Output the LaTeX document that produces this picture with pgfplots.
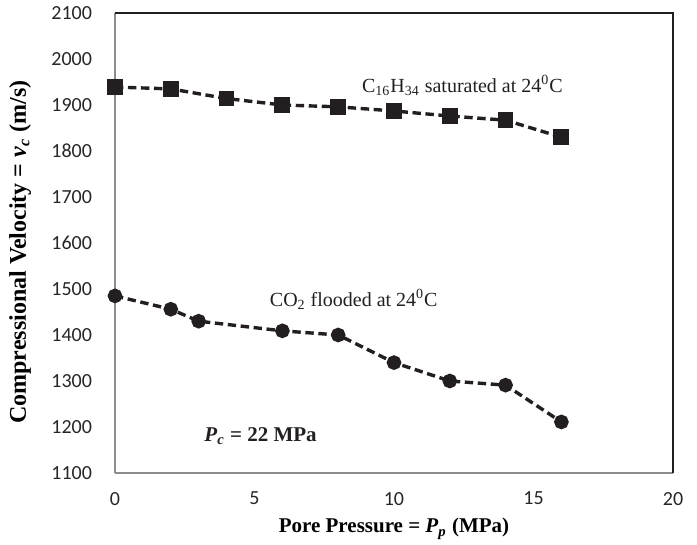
\documentclass[border=0pt]{standalone}
\usepackage{fontspec}
\setmainfont{Liberation Serif}
\newfontfamily\carlito{Carlito}
\usepackage{pgfplots}
\pgfplotsset{compat=1.18}
\definecolor{ink}{HTML}{231F20}
\definecolor{framegray}{HTML}{8C8C8C}
\pgfplotstableread{
x y
0 1939
2 1935
4 1914
6 1900
8 1896
10 1887
12 1876
14 1867
16 1830
}\hexadecane
\pgfplotstableread{
x y
0 1485
2 1456
3 1430
6 1409
8 1400
10 1340
12 1300
14 1291
16 1211
}\cotwo
\begin{document}
\begin{tikzpicture}
\begin{axis}[
  scale only axis, width=279pt, height=230pt,
  xmin=0, xmax=20, ymin=1100, ymax=2100,
  xtick={0,5,10,15,20}, ytick={1100,1200,...,2100},
  axis lines*=left,
  axis line style={framegray, line width=0.9pt},
  major tick length=0pt,
  tick label style={font=\carlito\fontsize{10}{12}\selectfont, text=black!85},
  /pgf/number format/assume math mode=true,
  /pgf/number format/1000 sep={},
  yticklabel style={xshift=-8pt},
  xticklabel style={yshift=-6pt},
  clip=false,
  every axis x label/.style={at={(rel axis cs:0.5,0)}, anchor=base, yshift=-30pt,
    font=\fontsize{10.5}{12}\selectfont\bfseries},
  every axis y label/.style={at={(rel axis cs:-0.170,0.48)}, anchor=center, rotate=90,
    font=\fontsize{12}{14}\selectfont\bfseries},
  xlabel={Pore Pressure = \textit{P}\textsubscript{\textit{p}} (MPa)},
  ylabel={Compressional Velocity = \textit{v}\textsubscript{\textit{c}} (m/s)},
]
\addplot[ink, line width=1.7pt, dash pattern=on 4.2pt off 2.3pt,
  mark=square*, mark size=3.1pt, mark options={solid, fill=ink}] table[x=x,y=y] {\hexadecane};
\addplot[ink, line width=1.7pt, dash pattern=on 4.2pt off 2.3pt,
  mark=*, mark size=2.8pt, mark options={solid, fill=ink}] table[x=x,y=y] {\cotwo};
\draw[ink, line width=0.65pt] (rel axis cs:0,1) -- (rel axis cs:1,1) -- (rel axis cs:1,0);
\node[anchor=base west, font=\fontsize{10}{12}\selectfont, text=ink] at (axis cs:8.6,1928)
  {C\textsubscript{16}H\textsubscript{34} saturated at 24\textsuperscript{0}C};
\node[anchor=base west, font=\fontsize{10}{12}\selectfont, text=ink] at (axis cs:5.3,1463)
  {CO\textsubscript{2} flooded at 24\textsuperscript{0}C};
\node[anchor=base west, font=\fontsize{10.5}{12}\selectfont\bfseries, text=ink] at (axis cs:2.95,1168)
  {\textit{P}\textsubscript{\textit{c}} = 22 MPa};
\end{axis}
\pgfresetboundingbox
\path ([xshift=-57.5pt,yshift=-36pt]current axis.south west) rectangle ([xshift=12pt,yshift=6.5pt]current axis.north east);
\end{tikzpicture}
\end{document}
